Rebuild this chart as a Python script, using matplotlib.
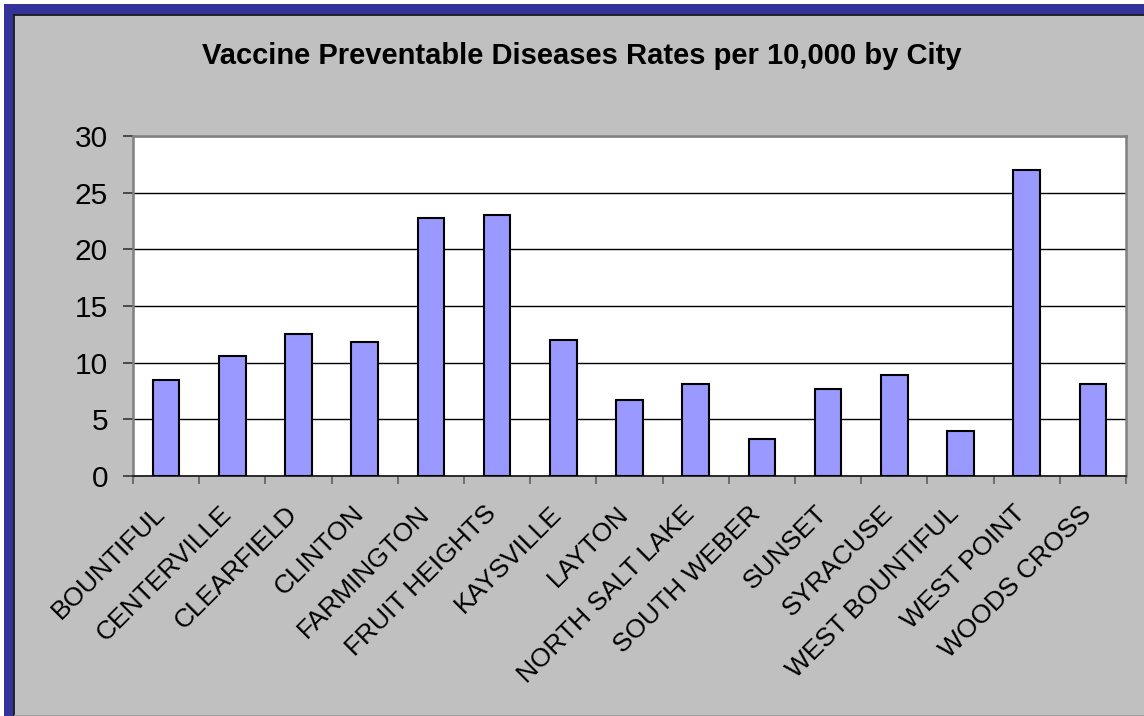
import matplotlib
matplotlib.use("Agg")
import matplotlib.pyplot as plt
from matplotlib.patches import Rectangle
import matplotlib.transforms as mtransforms

cities = ["BOUNTIFUL", "CENTERVILLE", "CLEARFIELD", "CLINTON", "FARMINGTON",
          "FRUIT HEIGHTS", "KAYSVILLE", "LAYTON", "NORTH SALT LAKE",
          "SOUTH WEBER", "SUNSET", "SYRACUSE", "WEST BOUNTIFUL",
          "WEST POINT", "WOODS CROSS"]
rates = [8.45, 10.56, 12.5, 11.79, 22.74, 23.06, 11.97, 6.68, 8.09,
         3.29, 7.72, 8.94, 4.0, 26.97, 8.09]
y_ticks = [0, 5, 10, 15, 20, 25, 30]
title = "Vaccine Preventable Diseases Rates per 10,000 by City"

W, H, DPI = 1144, 716, 100
plt.rcParams["font.family"] = ["Liberation Sans", "DejaVu Sans"]

fig = plt.figure(figsize=(W / DPI, H / DPI), dpi=DPI, facecolor="white")

# chart frame: navy band on the top and left, grey panel inside
fig.patches.append(Rectangle((4 / W, -0.1), 1.2, (H - 4) / H + 0.1,
                             transform=fig.transFigure, facecolor="#333399",
                             edgecolor="none", zorder=-3))
fig.patches.append(Rectangle((14 / W, -0.1), 1.2, (H - 15) / H + 0.1,
                             transform=fig.transFigure, facecolor="#C0C0C0",
                             edgecolor="#1a1a1a", linewidth=1.3, zorder=-2))
fig.patches.append(Rectangle((14 / W, 0), 1.2, 1.5 / H,
                             transform=fig.transFigure, facecolor="#A0A0A0",
                             edgecolor="none", zorder=-1))

left, right, top, bottom = 133, 1126, 136, 476
ax = fig.add_axes([left / W, 1 - bottom / H, (right - left) / W, (bottom - top) / H])
ax.set_facecolor("white")

x = [i + 0.5 for i in range(len(cities))]
ax.bar(x, rates, width=0.4, color="#9999FF", edgecolor="black",
       linewidth=1.5, zorder=3)

ax.set_xlim(0, len(cities))
ax.set_ylim(0, 30)
ax.set_yticks(y_ticks)
ax.set_yticklabels([str(v) for v in y_ticks], fontsize=21.5)
ax.grid(axis="y", color="black", linewidth=1.0, zorder=1)
ax.set_axisbelow(True)

ax.set_xticks(range(len(cities) + 1))
ax.set_xticklabels([])
ax.tick_params(axis="x", which="major", direction="out", length=6,
               width=1.3, color="#666666")
ax.tick_params(axis="y", direction="out", length=7, width=1.3,
               color="#404040", pad=11)

for sp in ["top", "right"]:
    ax.spines[sp].set_color("#808080")
    ax.spines[sp].set_linewidth(1.8)
ax.spines["left"].set_color("#808080")
ax.spines["left"].set_linewidth(1.8)
ax.spines["bottom"].set_color("#202020")
ax.spines["bottom"].set_linewidth(1.3)

# rotated category labels, right end anchored just below each category centre
offset = mtransforms.ScaledTranslation(-5 / DPI, -34 / DPI, fig.dpi_scale_trans)
for xi, name in zip(x, cities):
    ax.text(xi, 0, name, rotation=45, ha="right", va="center",
            rotation_mode="anchor", fontsize=19,
            transform=ax.get_xaxis_transform() + offset, clip_on=False)

fig.text(582 / W, 1 - 56 / H, title, ha="center", va="center",
         fontsize=21, fontweight="bold")

fig.savefig("out.png", dpi=DPI, facecolor=fig.get_facecolor())
